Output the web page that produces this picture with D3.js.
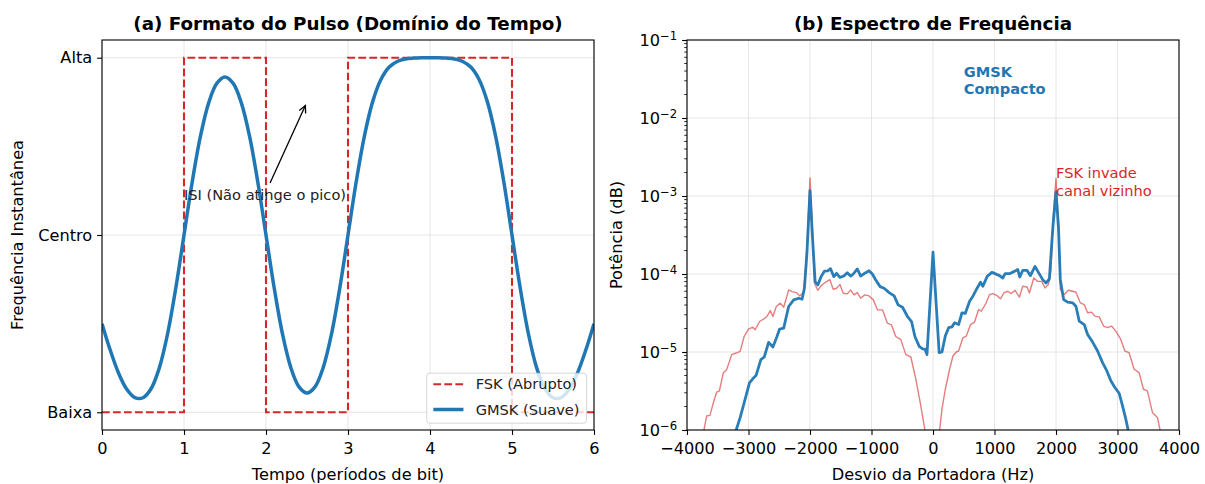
<!DOCTYPE html>
<html><head><meta charset="utf-8">
<script src="https://cdn.jsdelivr.net/npm/d3@7"></script>
<style>
body{margin:0;background:#fff}
svg text{font-family:"DejaVu Sans",sans-serif}
</style>
</head><body>
<svg id="c" width="1205" height="484"></svg>
<script>
// ---------------- DATA ----------------
const timeTicks = [0, 1, 2, 3, 4, 5, 6];
const levelTicks = [-1, 0, 1];
const levelLabels = ["Baixa", "Centro", "Alta"];

// FSK (abrupt) bit levels, step-after
const fskBitTimes  = [0, 1, 2, 3, 4, 5, 6];
const fskBitLevels = [-1, 1, -1, 1, 1, -1, -1];

// GMSK (smooth) instantaneous frequency
const gmskTime = [0,0.1,0.2,0.3,0.4,0.5,0.6,0.7,0.8,0.9,1,1.1,1.2,1.3,1.4,1.5,1.6,1.7,1.8,1.9,2,
  2.1,2.2,2.3,2.4,2.5,2.6,2.7,2.8,2.9,3,3.1,3.2,3.3,3.4,3.5,3.6,3.7,3.8,3.9,4,
  4.1,4.2,4.3,4.4,4.5,4.6,4.7,4.8,4.9,5,5.1,5.2,5.3,5.4,5.5,5.6,5.7,5.8,5.9,6];
const gmskLevel = [-0.500,-0.649,-0.777,-0.869,-0.917,-0.918,-0.866,-0.748,-0.557,-0.299,0.000,
  0.299,0.556,0.744,0.855,0.891,0.855,0.744,0.556,0.299,0.000,
  -0.299,-0.556,-0.744,-0.855,-0.891,-0.855,-0.744,-0.556,-0.299,0.000,
  0.300,0.558,0.751,0.876,0.946,0.979,0.993,0.998,1.000,1.000,
  1.000,0.998,0.993,0.979,0.946,0.876,0.751,0.558,0.300,0.000,
  -0.299,-0.557,-0.748,-0.866,-0.918,-0.917,-0.869,-0.777,-0.649,-0.500];

const freqTicks = [-4000, -3000, -2000, -1000, 0, 1000, 2000, 3000, 4000];
const powerTicks = [1e-6, 1e-5, 1e-4, 1e-3, 1e-2, 1e-1];

// FSK spectrum
const fskFreq = [-3760,-3724,-3681,-3627,-3572,-3518,-3475,-3409,-3355,-3273,-3201,-3136,-3071,-3000,-2929,-2891,
  -2820,-2755,-2701,-2646,-2603,-2548,-2483,-2428,-2347,-2292,-2222,-2167,-2102,-2050,-2000,-1960,
  -1927,-1873,-1819,-1748,-1677,-1623,-1568,-1514,-1459,-1394,-1340,-1285,-1231,-1176,-1111,-1040,
  -970,-904,-822,-741,-676,-605,-523,-442,-360,-278,-207,-152,-131,-80,
  80,108,146,200,270,324,378,416,486,541,611,676,741,784,865,919,973,1043,1097,1151,1216,1270,
  1335,1405,1459,1530,1568,1638,1703,1768,1822,1876,1919,1955,2000,2040,2070,2135,2200,2270,2324,
  2395,2459,2514,2578,2632,2703,2773,2838,2903,2973,3054,3119,3189,3270,3351,3422,3486,3568,3649,3692,3730];
const fskPower = [7e-7,1.0e-6,1.51e-6,1.54e-6,2.23e-6,3.05e-6,3.15e-6,5.4e-6,5.94e-6,9.25e-6,9.7e-6,1.02e-5,1.58e-5,1.97e-5,2.08e-5,1.93e-5,
  2.46e-5,2.64e-5,2.85e-5,3.4e-5,2.85e-5,3.83e-5,4.23e-5,3.75e-5,6.25e-5,5.94e-5,5.78e-5,5.24e-5,5.78e-5,2.2e-4,1.71e-3,3.6e-4,
  7.6e-5,6.18e-5,7.1e-5,7.83e-5,8.47e-5,6.37e-5,6.56e-5,7.31e-5,5.66e-5,5.56e-5,6.25e-5,5.4e-5,5.78e-5,4.89e-5,5.4e-5,5.24e-5,
  4.66e-5,3.47e-5,3.47e-5,2.34e-5,2.23e-5,1.58e-5,1.44e-5,9.25e-6,8.63e-6,4.44e-6,2.23e-6,1.24e-6,1.0e-6,3e-7,
  3e-7,1.0e-6,1.85e-6,3.33e-6,6.01e-6,8.89e-6,1.0e-5,1.03e-5,1.52e-5,1.6e-5,2.25e-5,2.42e-5,3.51e-5,3.33e-5,4.27e-5,5.45e-5,5.61e-5,5.28e-5,4.8e-5,5.71e-5,6.01e-5,5.61e-5,
  6.18e-5,5.04e-5,6.97e-5,6.82e-5,5.71e-5,8.89e-5,8.05e-5,8.05e-5,6.62e-5,7.31e-5,1.14e-4,5.5e-4,1.68e-3,4.5e-4,6.31e-5,5.45e-5,6.18e-5,6.01e-5,5.83e-5,
  4.27e-5,4.06e-5,3.18e-5,3.24e-5,2.88e-5,2.82e-5,2.15e-5,2.05e-5,2.15e-5,1.85e-5,1.45e-5,1.03e-5,9.8e-6,6.01e-6,5.45e-6,3.33e-6,3.18e-6,1.68e-6,1.45e-6,1.0e-6,7e-7];

// GMSK spectrum
const gmskFreq = [-3250,-3200,-3136,-3071,-2984,-2918,-2875,-2799,-2744,-2673,-2603,-2537,-2494,-2428,-2347,-2265,
  -2183,-2129,-2091,-2050,-2000,-1960,-1917,-1873,-1819,-1764,-1710,-1666,-1612,-1568,-1514,-1449,
  -1394,-1340,-1296,-1231,-1176,-1095,-1040,-986,-931,-860,-795,-713,-632,-567,-496,-414,-349,-294,
  -224,-169,-131,-98,0,100,146,200,254,308,351,416,470,524,595,649,719,773,811,881,957,1011,1081,1135,
  1173,1243,1324,1378,1411,1459,1530,1584,1659,1714,1784,1838,1892,1950,2000,2040,2070,2124,2189,2270,
  2324,2378,2459,2514,2595,2676,2757,2827,2892,2957,3027,3081,3135,3173,3220];
const gmskPower = [7e-7,1.0e-6,1.44e-6,2.23e-6,4.02e-6,4.66e-6,5.04e-6,7.98e-6,8.63e-6,1.33e-5,1.16e-5,1.58e-5,1.97e-5,2.02e-5,3.83e-5,4.66e-5,
  4.89e-5,4.75e-5,6.56e-5,1.84e-4,1.17e-3,3.0e-4,7.98e-5,7.24e-5,9.25e-5,1.09e-4,1.10e-4,1.17e-4,9.25e-5,1.02e-4,9.06e-5,9.42e-5,
  1.04e-4,9.42e-5,1.0e-4,1.16e-4,9.42e-5,1.04e-4,1.10e-4,1.0e-4,8.38e-5,6.89e-5,6.56e-5,5.78e-5,5.24e-5,4.02e-5,3.75e-5,2.85e-5,2.46e-5,1.58e-5,
  1.18e-5,1.10e-5,1.09e-5,9.25e-6,1.9e-4,9.8e-6,1.0e-5,1.6e-5,2.05e-5,2.1e-5,2.37e-5,2.25e-5,3.18e-5,3.12e-5,4.48e-5,5.19e-5,6.62e-5,7.83e-5,6.97e-5,9.33e-5,1.05e-4,1.01e-4,9.53e-5,8.89e-5,
  1.01e-4,1.01e-4,1.08e-4,1.14e-4,9.16e-5,1.11e-4,1.11e-4,9.53e-5,1.25e-4,1.05e-4,8.47e-5,7.67e-5,8.63e-5,4.06e-4,1.13e-3,4.0e-4,8.47e-5,4.7e-5,4.35e-5,4.27e-5,
  3.86e-5,2.49e-5,2.25e-5,1.68e-5,1.34e-5,1.03e-5,7.31e-6,5.71e-6,4.27e-6,3.51e-6,2.96e-6,2.05e-6,1.38e-6,1.0e-6,7e-7];

// annotation anchors (data coordinates)
const isiText = "ISI (Não atinge o pico)";
const isiTextPos = [1, 0.2];
const isiArrowTip = [2.48, 0.73];
const gmskNoteLines = ["GMSK", "Compacto"];
const gmskNotePos = [500, 3.4e-2];      // first-line baseline
const fskNoteLines = ["FSK invade", "canal vizinho"];
const fskNotePos = [2000, 1e-3];        // last-line baseline

// ---------------- STYLE ----------------
const BLUE = "#1f77b4", RED = "#d62728";
const FS = 14.6, TICK_FS = 16.2, LABEL_FS = 16.2, TITLE_FS = 18.3;
const TICK = 4.9, PAD = 4.9, PAD_X = 7.5;
const GRID = "#e6e6e6";

const svg = d3.select("#c");
const plotTop = 40, plotBottom = 430;
const xL = d3.scaleLinear([0, 6], [102, 594]);
const yL = d3.scaleLinear([-1.1, 1.1], [plotBottom, plotTop]);
const xR = d3.scaleLinear([-4000, 4000], [687, 1179]);
const yR = d3.scaleLog([1e-6, 1e-1], [plotBottom, plotTop]);

const defs = svg.append("defs");
function clip(id, x) {
  defs.append("clipPath").attr("id", id).append("rect")
    .attr("x", x.range()[0]).attr("y", plotTop)
    .attr("width", x.range()[1] - x.range()[0]).attr("height", plotBottom - plotTop);
}
clip("clipL", xL); clip("clipR", xR);

function grid(g, x, y, xt, yt) {
  g.selectAll(".gx").data(xt).join("line").attr("class", "gx")
    .attr("x1", d => x(d)).attr("x2", d => x(d)).attr("y1", plotTop).attr("y2", plotBottom)
    .attr("stroke", GRID).attr("stroke-width", 1);
  g.selectAll(".gy").data(yt).join("line").attr("class", "gy")
    .attr("x1", x.range()[0]).attr("x2", x.range()[1]).attr("y1", d => y(d)).attr("y2", d => y(d))
    .attr("stroke", GRID).attr("stroke-width", 1);
}
function styleAxis(g) {
  g.select(".domain").remove();
  g.selectAll(".tick line").attr("stroke", "#000").attr("stroke-width", 1.1);
  g.selectAll(".tick text").attr("font-size", TICK_FS).attr("fill", "#000")
    .attr("font-family", "DejaVu Sans");
}
function frame(x) {
  svg.append("rect").attr("x", x.range()[0]).attr("y", plotTop)
    .attr("width", x.range()[1] - x.range()[0]).attr("height", plotBottom - plotTop)
    .attr("fill", "none").attr("stroke", "#000").attr("stroke-width", 1.1);
}

// ---------------- LEFT PANEL ----------------
const gL = svg.append("g");
grid(gL.append("g"), xL, yL, timeTicks, levelTicks);

const plotL = gL.append("g").attr("clip-path", "url(#clipL)");
const fskPts = fskBitTimes.map((t, i) => [t, fskBitLevels[i]]);
plotL.append("path").datum(fskPts)
  .attr("d", d3.line().x(d => xL(d[0])).y(d => yL(d[1])).curve(d3.curveStepAfter))
  .attr("fill", "none").attr("stroke", RED).attr("stroke-width", 2.1)
  .attr("stroke-dasharray", "7.7,3.3");
const gmskPts = gmskTime.map((t, i) => [t, gmskLevel[i]]);
plotL.append("path").datum(gmskPts)
  .attr("d", d3.line().x(d => xL(d[0])).y(d => yL(d[1])).curve(d3.curveCatmullRom))
  .attr("fill", "none").attr("stroke", BLUE).attr("stroke-width", 3.5)
  .attr("stroke-linejoin", "round");

gL.append("g").attr("transform", `translate(0,${plotBottom})`)
  .call(d3.axisBottom(xL).tickValues(timeTicks).tickFormat(d3.format("d"))
    .tickSize(TICK).tickPadding(PAD_X).tickSizeOuter(0))
  .call(styleAxis);
gL.append("g").attr("transform", `translate(${xL.range()[0]},0)`)
  .call(d3.axisLeft(yL).tickValues(levelTicks).tickFormat((d, i) => levelLabels[i])
    .tickSize(TICK).tickPadding(PAD).tickSizeOuter(0))
  .call(styleAxis);
frame(xL);

// annotation
const isi = gL.append("text").attr("x", xL(isiTextPos[0])).attr("y", yL(isiTextPos[1]))
  .attr("font-size", FS).attr("fill", "#222").text(isiText);
{
  const bb = isi.node().getBBox();
  const cx = bb.x + bb.width / 2, cy = bb.y + bb.height / 2;
  const px = xL(isiArrowTip[0]), py = yL(isiArrowTip[1]);
  const dx = px - cx, dy = py - cy;
  const s = Math.min((bb.width / 2) / Math.abs(dx || 1e-9), (bb.height / 2) / Math.abs(dy || 1e-9));
  const L = Math.hypot(dx, dy);
  const ux = dx / L, uy = dy / L;
  const sx = cx + dx * s + ux * 2.8, sy = cy + dy * s + uy * 2.8;
  gL.append("line").attr("x1", sx).attr("y1", sy).attr("x2", px).attr("y2", py)
    .attr("stroke", "#000").attr("stroke-width", 1.3);
  const hl = 7, hw = 3.5;
  const bx = px - ux * hl, by = py - uy * hl;
  gL.append("path")
    .attr("d", `M${bx - uy * hw},${by + ux * hw}L${px},${py}L${bx + uy * hw},${by - ux * hw}`)
    .attr("fill", "none").attr("stroke", "#000").attr("stroke-width", 1.3);
}

// legend
{
  const lg = gL.append("g");
  const box = lg.append("rect").attr("fill", "#fff").attr("fill-opacity", 0.8)
    .attr("stroke", "#ccc").attr("stroke-opacity", 0.8).attr("rx", 3);
  const items = [
    {label: "FSK (Abrupto)", color: RED, w: 2.1, dash: "7.7,3.3"},
    {label: "GMSK (Suave)", color: BLUE, w: 3.5, dash: null}
  ];
  const right = 586.6, bot = 423.2, rowGap = 25.3;
  const texts = [];
  let maxW = 0;
  items.forEach((it) => {
    const t = lg.append("text").attr("font-size", FS).attr("fill", "#222").text(it.label);
    texts.push(t);
    maxW = Math.max(maxW, t.node().getComputedTextLength());
  });
  const bp = 6.1, hlen = 30.6, htp = 12.2;
  const width = bp * 2 + hlen + htp + maxW + 1;
  const left = right - width;
  const height = 50;
  box.attr("x", left).attr("y", bot - height).attr("width", width).attr("height", height);
  items.forEach((it, i) => {
    const cy = bot - height + 11 + i * rowGap;
    const ln = lg.append("line").attr("x1", left + bp + 0.5).attr("x2", left + bp + hlen)
      .attr("y1", cy).attr("y2", cy).attr("stroke", it.color).attr("stroke-width", it.w);
    if (it.dash) ln.attr("stroke-dasharray", it.dash);
    texts[i].attr("x", left + bp + hlen + htp).attr("y", cy).attr("dy", "0.36em");
  });
}

gL.append("text").attr("x", 348).attr("y", 29.5).attr("text-anchor", "middle")
  .attr("font-size", TITLE_FS).attr("font-weight", "bold")
  .text("(a) Formato do Pulso (Domínio do Tempo)");
gL.append("text").attr("x", 348).attr("y", 480).attr("text-anchor", "middle")
  .attr("font-size", LABEL_FS).text("Tempo (períodos de bit)");
gL.append("text").attr("transform", "translate(23,235) rotate(-90)").attr("text-anchor", "middle")
  .attr("font-size", LABEL_FS).text("Frequência Instantânea");

// ---------------- RIGHT PANEL ----------------
const gR = svg.append("g");
grid(gR.append("g"), xR, yR, freqTicks, powerTicks);

const plotR = gR.append("g").attr("clip-path", "url(#clipR)");
const lineR = d3.line().x(d => xR(d[0])).y(d => yR(d[1]));
plotR.append("path").datum(fskFreq.map((f, i) => [f, fskPower[i]]))
  .attr("d", lineR).attr("fill", "none").attr("stroke", RED)
  .attr("stroke-opacity", 0.6).attr("stroke-width", 1.4).attr("stroke-linejoin", "round");
plotR.append("path").datum(gmskFreq.map((f, i) => [f, gmskPower[i]]))
  .attr("d", lineR).attr("fill", "none").attr("stroke", BLUE)
  .attr("stroke-opacity", 0.95).attr("stroke-width", 2.8).attr("stroke-linejoin", "round");

gR.append("g").attr("transform", `translate(0,${plotBottom})`)
  .call(d3.axisBottom(xR).tickValues(freqTicks).tickFormat(d => d < 0 ? "\u2212" + Math.abs(d) : String(d))
    .tickSize(TICK).tickPadding(PAD_X).tickSizeOuter(0))
  .call(styleAxis);
const yAxR = gR.append("g").attr("transform", `translate(${xR.range()[0]},0)`)
  .call(d3.axisLeft(yR).tickValues(powerTicks).tickFormat(() => "")
    .tickSize(TICK).tickPadding(PAD).tickSizeOuter(0))
  .call(styleAxis);
yAxR.selectAll(".tick text").each(function (d) {
  const t = d3.select(this);
  t.text("10");
  t.append("tspan").attr("dy", "-0.45em").attr("font-size", "0.72em")
    .text("\u2212" + Math.abs(Math.round(Math.log10(d))));
});
// minor ticks on log axis
const minorVals = [];
for (let k = -6; k < -1; k++) for (let m = 2; m <= 9; m++) minorVals.push(m * Math.pow(10, k));
gR.append("g").selectAll("line").data(minorVals).join("line")
  .attr("x1", xR.range()[0]).attr("x2", xR.range()[0] - 2.8)
  .attr("y1", d => yR(d)).attr("y2", d => yR(d))
  .attr("stroke", "#000").attr("stroke-width", 0.8);
frame(xR);

// notes
const gn = gR.append("text").attr("font-size", FS).attr("font-weight", "bold").attr("fill", BLUE);
gmskNoteLines.forEach((s, i) => gn.append("tspan").attr("x", xR(gmskNotePos[0]))
  .attr("y", yR(gmskNotePos[1]) + i * 17.8).text(s));
const fn = gR.append("text").attr("font-size", FS).attr("fill", RED);
fskNoteLines.forEach((s, i) => fn.append("tspan").attr("x", xR(fskNotePos[0]))
  .attr("y", yR(fskNotePos[1]) - (fskNoteLines.length - 1 - i) * 17.8).text(s));

gR.append("text").attr("x", 933).attr("y", 29.5).attr("text-anchor", "middle")
  .attr("font-size", TITLE_FS).attr("font-weight", "bold").text("(b) Espectro de Frequência");
gR.append("text").attr("x", 933).attr("y", 480).attr("text-anchor", "middle")
  .attr("font-size", LABEL_FS).text("Desvio da Portadora (Hz)");
gR.append("text").attr("transform", "translate(622,235) rotate(-90)").attr("text-anchor", "middle")
  .attr("font-size", LABEL_FS).text("Potência (dB)");
</script>
</body></html>
